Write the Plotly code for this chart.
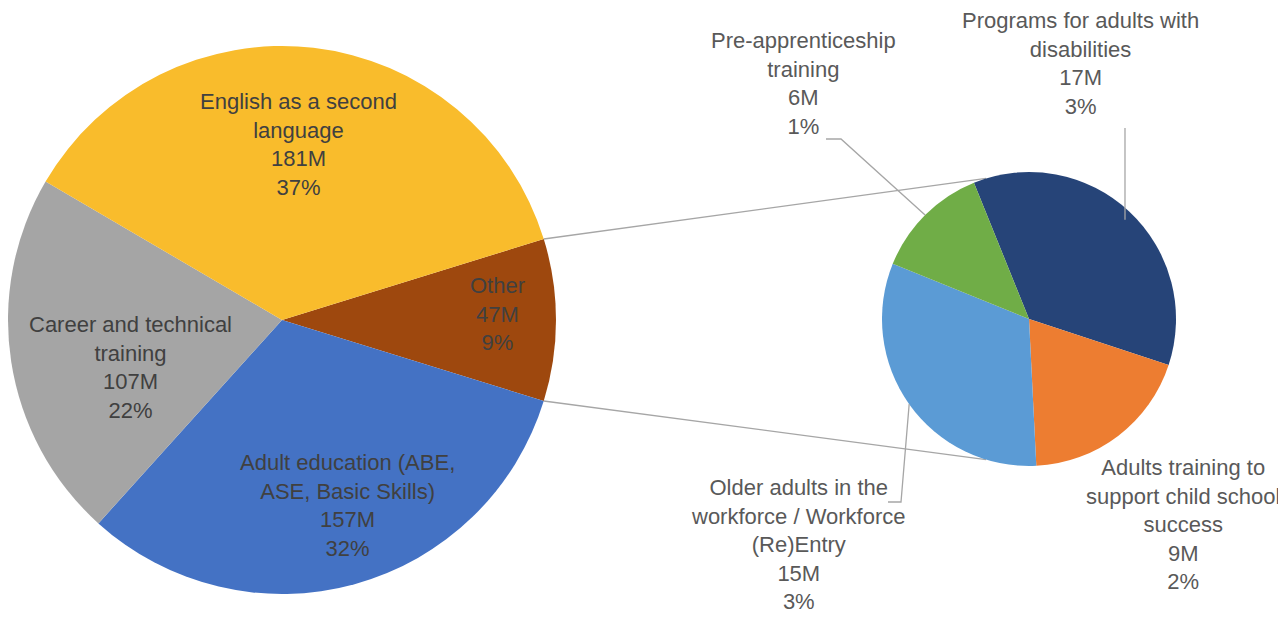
import math
import plotly.graph_objects as go

# ---------------- data ----------------
main_labels = ["Other", "Adult education (ABE,<br>ASE, Basic Skills)", "Career and technical<br>training",
               "English as a second<br>language"]
main_values = [47, 157, 107, 181]          # $M
main_pct = ["9%", "32%", "22%", "37%"]

sub_labels = ["Programs for adults with<br>disabilities", "Adults training to<br>support child school<br>success",
              "Older adults in the<br>workforce / Workforce<br>(Re)Entry", "Pre-apprenticeship<br>training"]
sub_values = [17, 9, 15, 6]                # $M
sub_pct = ["3%", "2%", "3%", "1%"]

# ---------------- styles / layout ----------------
W, H = 1286, 617
main_colors = ["#9E480E", "#4472C4", "#A5A5A5", "#F9BC2C"]
sub_colors = ["#264478", "#ED7D31", "#5B9BD5", "#70AD47"]
FONT = "Liberation Sans, Arial, sans-serif"

main_c, main_r = (274, 312), 274
sub_c, sub_r = (1021, 311), 147
sub_rotation = -22  # degrees clockwise from 12 o'clock

def dom(c, r):
    return dict(x=[max(0, (c[0] - r) / W), (c[0] + r) / W], y=[(H - c[1] - r) / H, (H - c[1] + r) / H])

def px(x, y):
    return x / W, 1 - y / H

tot = sum(main_values)
other_half = 180.0 * main_values[0] / tot
main_rotation = 90 - other_half

fig = go.Figure()
fig.add_trace(go.Pie(values=main_values, labels=main_labels, sort=False, direction="clockwise",
                     rotation=main_rotation, marker=dict(colors=main_colors, line=dict(width=0)),
                     textinfo="none", domain=dom(main_c, main_r), hoverinfo="label+value", showlegend=False))
fig.add_trace(go.Pie(values=sub_values, labels=sub_labels, sort=False, direction="clockwise",
                     rotation=sub_rotation, marker=dict(colors=sub_colors, line=dict(width=0)),
                     textinfo="none", domain=dom(sub_c, sub_r), hoverinfo="label+value", showlegend=False))

def edge(c, r, ang_deg):
    a = math.radians(ang_deg)
    return c[0] + r * math.cos(a), c[1] - r * math.sin(a)

# slice mid angles for the secondary pie (math degrees)
sub_tot = sum(sub_values)
start = 90 - sub_rotation
mids = []
for v in sub_values:
    span = 360.0 * v / sub_tot
    mids.append(start - span / 2)
    start -= span

line_style = dict(color="#A6A6A6", width=1.3)
shapes = []
# connectors between main "Other" slice and the secondary pie
for sgn in (1, -1):
    x0, y0 = edge(main_c, main_r, sgn * other_half)
    x1, y1 = edge(sub_c, sub_r, sgn * 107)
    a, b = px(x0, y0)
    c, d = px(x1, y1)
    shapes.append(dict(type="line", xref="paper", yref="paper", x0=a, y0=b, x1=c, y1=d, line=line_style, layer="below"))

def path(points):
    pts = [px(x, y) for x, y in points]
    return "M " + " L ".join(f"{x:.5f},{y:.5f}" for x, y in pts)

# leader lines
ex, ey = edge(sub_c, sub_r, mids[3])
shapes.append(dict(type="path", xref="paper", yref="paper", path=path([(818, 131), (833, 131), (ex, ey)]), line=line_style))
ex, ey = edge(sub_c, sub_r, mids[0])
shapes.append(dict(type="path", xref="paper", yref="paper", path=path([(1117, 120), (1117, ey + 8)]), line=line_style))
ex, ey = edge(sub_c, sub_r, mids[2])
shapes.append(dict(type="path", xref="paper", yref="paper", path=path([(880, 494), (893, 494), (ex, ey)]), line=line_style))

# label positions (pixel centres)
main_pos = [(490, 306), (340, 497), (122, 359), (290, 136)]
sub_pos = [(1072, 55), (1175, 516), (790, 536), (795, 75)]

annotations = []
for lab, v, p, pos in zip(main_labels, main_values, main_pct, main_pos):
    x, y = px(*pos)
    annotations.append(dict(x=x, y=y, xref="paper", yref="paper", text=f"{lab}<br>{v}M<br>{p}",
                            showarrow=False, xanchor="center", yanchor="middle", align="center",
                            font=dict(family=FONT, size=22, color="#404040")))
for lab, v, p, pos in zip(sub_labels, sub_values, sub_pct, sub_pos):
    x, y = px(*pos)
    annotations.append(dict(x=x, y=y, xref="paper", yref="paper", text=f"{lab}<br>{v}M<br>{p}",
                            showarrow=False, xanchor="center", yanchor="middle", align="center",
                            font=dict(family=FONT, size=22, color="#595959")))

fig.update_layout(width=W, height=H, margin=dict(l=0, r=0, t=0, b=0),
                  paper_bgcolor="white", plot_bgcolor="white",
                  shapes=shapes, annotations=annotations, font=dict(family=FONT))
fig.write_html("out.html")
